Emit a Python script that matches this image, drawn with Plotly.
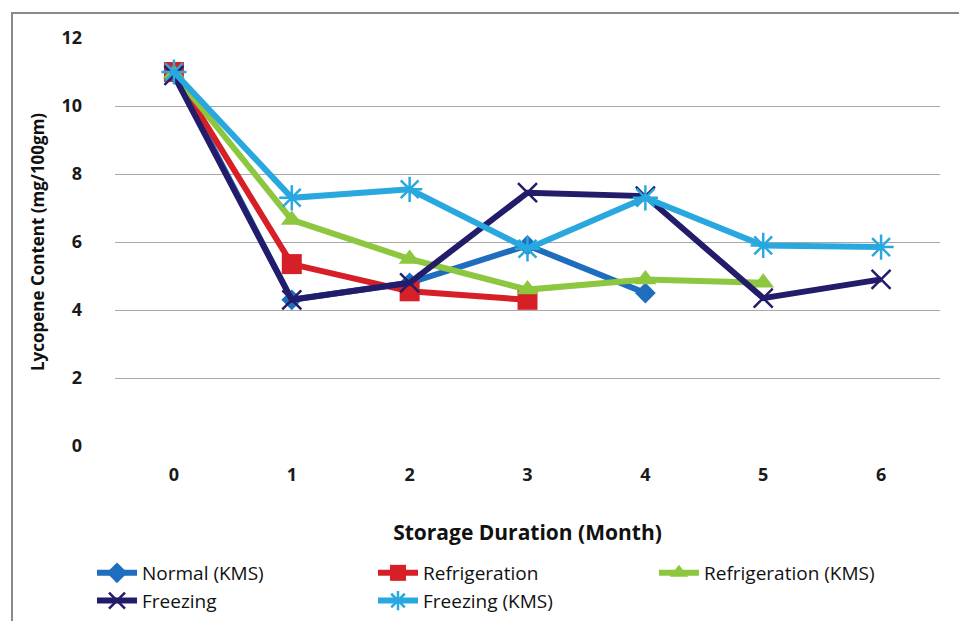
import plotly.graph_objects as go

months = ["0", "1", "2", "3", "4", "5", "6"]
normal_kms = [11.0, 4.3, 4.8, 5.9, 4.5]
refrigeration = [11.0, 5.35, 4.55, 4.3]
refrigeration_kms = [10.95, 6.65, 5.5, 4.6, 4.9, 4.8]
freezing = [10.9, 4.3, 4.8, 7.45, 7.35, 4.35, 4.9]
freezing_kms = [11.0, 7.3, 7.55, 5.8, 7.3, 5.9, 5.85]
y_ticks = [0, 2, 4, 6, 8, 10, 12]

series = [
    ("Normal (KMS)", normal_kms, "#1f6dbf", "diamond", 16, 0),
    ("Refrigeration", refrigeration, "#d61f26", "square", 20, 0),
    ("Refrigeration (KMS)", refrigeration_kms, "#8dc63f", "triangle-up", 19, 0),
    ("Freezing", freezing, "#221c6b", "x-thin-open", 19, 2.5),
    ("Freezing (KMS)", freezing_kms, "#29a8df", "asterisk-open", 21, 2.5),
]

W, H = 959, 621
L, R, T, B = 115, 19, 38, 175

fig = go.Figure()
for name, vals, color, sym, size, lw in series:
    fig.add_trace(go.Scatter(
        x=months[:len(vals)], y=vals, name=name, mode="lines+markers",
        line=dict(color=color, width=6),
        marker=dict(symbol=sym, size=size, color=color,
                    line=dict(color=color, width=lw)),
    ))

pw = W - L - R
ph = H - T - B
def px(x):
    return (x - L) / pw
def py(y):
    return (H - B - y) / ph

fig.update_layout(
    width=W, height=H,
    margin=dict(l=L, r=R, t=T, b=B, autoexpand=False),
    paper_bgcolor="white", plot_bgcolor="white",
    font=dict(family="Open Sans, sans-serif", color="#1a1a1a"),
    xaxis=dict(
        type="category", categoryorder="array", categoryarray=months,
        range=[-0.5, 6.5], showgrid=False, zeroline=False, showline=False,
        tickfont=dict(size=18, family="Open Sans", color="#1a1a1a", weight="bold"),
        ticks="", ticklabelstandoff=16,
        title=dict(text="<b>Storage Duration (Month)</b>",
                   font=dict(size=21, family="Open Sans", color="#111"), standoff=40),
    ),
    yaxis=dict(
        range=[0, 12], tickvals=y_ticks, showgrid=True, gridcolor="#a8a8a8",
        gridwidth=1, zeroline=False, showline=False,
        tickfont=dict(size=18, family="Open Sans", color="#1a1a1a", weight="bold"),
        ticks="", ticklabelstandoff=32,
        title=dict(text="<b>Lycopene Content (mg/100gm)</b>",
                   font=dict(size=17, family="Open Sans", color="#111"), standoff=12),
    ),
    legend=dict(
        orientation="h",
        x=px(92), xanchor="left", y=py(554), yanchor="top",
        entrywidth=226, entrywidthmode="pixels",
        font=dict(size=19, family="Open Sans", color="#111"),
        tracegroupgap=0, itemwidth=40, bgcolor="rgba(0,0,0,0)",
    ),
    showlegend=True,
)

fig.add_shape(type="rect", xref="paper", yref="paper",
              x0=px(12), x1=px(975), y0=py(640), y1=py(13),
              line=dict(color="#8a8a8a", width=2), fillcolor="rgba(0,0,0,0)", layer="below")

fig.write_html("out.html")
